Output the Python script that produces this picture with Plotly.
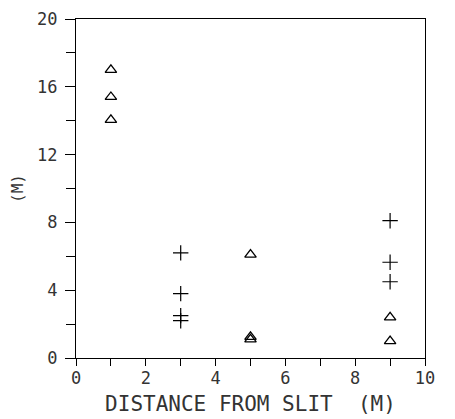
import plotly.graph_objects as go

tri_x = [1, 1, 1, 5, 5, 5, 9, 9]
tri_y = [17.0, 15.4, 14.05, 6.1, 1.25, 1.1, 2.4, 1.0]
plus_x = [3, 3, 3, 3, 9, 9, 9]
plus_y = [6.2, 3.8, 2.5, 2.2, 8.1, 5.65, 4.5]

x_ticks = [0, 2, 4, 6, 8, 10]
y_ticks = [0, 4, 8, 12, 16, 20]

font = "DejaVu Sans Mono"

fig = go.Figure()
fig.add_trace(go.Scatter(x=tri_x, y=tri_y, mode="markers",
                         marker=dict(symbol="triangle-up-open", size=10, color="black",
                                     line=dict(width=1.3, color="black"))))
fig.add_trace(go.Scatter(x=plus_x, y=plus_y, mode="markers",
                         marker=dict(symbol="cross-thin-open", size=11, color="black",
                                     line=dict(width=1.2, color="black"))))

axis_common = dict(showgrid=False, zeroline=False, showline=True, linecolor="black",
                   linewidth=1.2, mirror=True, ticks="outside", tickcolor="black",
                   tickwidth=1, automargin=False, ticklabeloverflow="allow")

fig.update_xaxes(range=[0, 10], tickvals=x_ticks, ticklen=7,
                 tickfont=dict(family=font, size=17, color="#333"),
                 ticklabelstandoff=-3,
                 minor=dict(dtick=1, ticks="outside", ticklen=7, tickcolor="black"),
                 title=dict(text="DISTANCE FROM SLIT  (M)",
                            font=dict(family=font, size=21, color="#333"), standoff=9),
                 **axis_common)
fig.update_yaxes(range=[0, 20], tickvals=y_ticks, ticklen=10,
                 tickfont=dict(family=font, size=17, color="#333"),
                 ticklabelstandoff=4,
                 minor=dict(dtick=2, ticks="outside", ticklen=9, tickcolor="black"),
                 title=dict(text="(M)", font=dict(family=font, size=16, color="#333"),
                            standoff=13),
                 **axis_common)

fig.update_layout(width=447, height=411, showlegend=False,
                  plot_bgcolor="white", paper_bgcolor="white",
                  margin=dict(l=68, r=30, t=11, b=61))

fig.write_html("out.html")
